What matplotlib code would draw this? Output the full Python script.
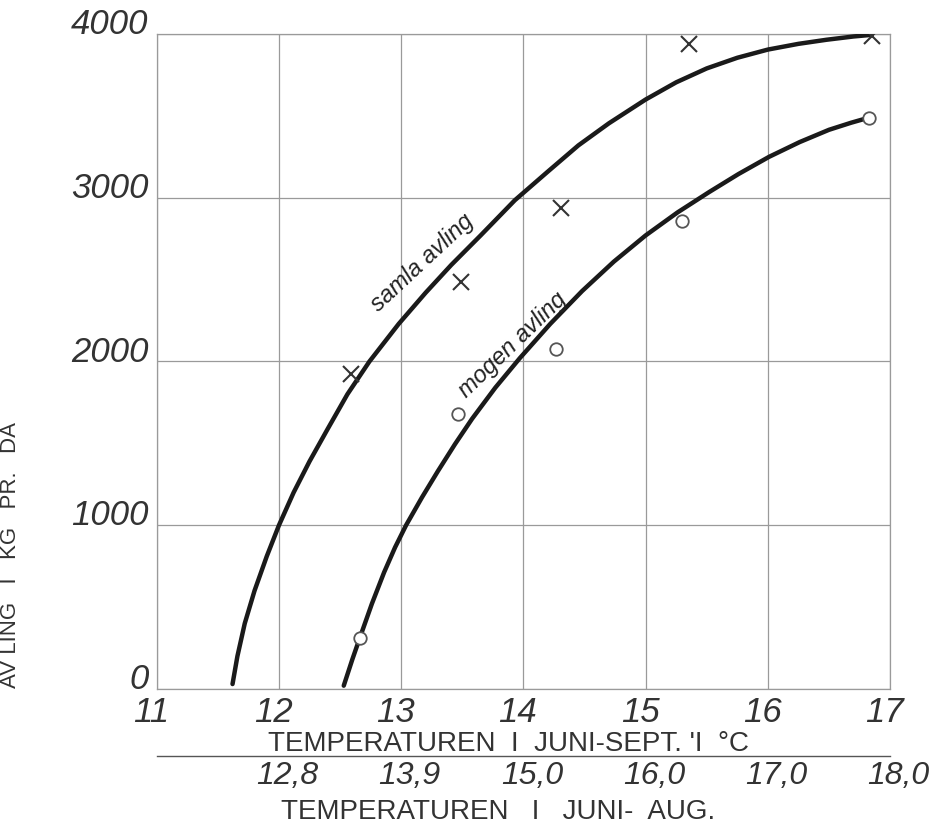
import numpy as np
import matplotlib.pyplot as plt
import matplotlib.transforms as mtransforms

# curves (temperature jun-sep, yield kg per da)
samla_x = [11.62, 11.66, 11.72, 11.80, 11.90, 12.00, 12.12, 12.25, 12.40, 12.56,
           12.74, 12.98, 13.20, 13.41, 13.65, 13.93, 14.20, 14.45, 14.70, 15.00,
           15.25, 15.50, 15.75, 16.00, 16.25, 16.48, 16.70, 16.85]
samla_y = [30, 200, 400, 600, 810, 1000, 1200, 1390, 1590, 1800,
           2000, 2230, 2420, 2590, 2770, 2985, 3160, 3320, 3455, 3600,
           3705, 3790, 3855, 3905, 3940, 3965, 3985, 3995]
mogen_x = [12.53, 12.60, 12.66, 12.76, 12.86, 12.95, 13.04, 13.17, 13.30, 13.44,
           13.58, 13.77, 13.97, 14.22, 14.48, 14.74, 15.00, 15.26, 15.52, 15.76,
           16.01, 16.26, 16.50, 16.68, 16.83]
mogen_y = [20, 180, 309, 520, 712, 865, 1000, 1170, 1330, 1495,
           1650, 1840, 2020, 2230, 2430, 2610, 2770, 2910, 3035, 3145,
           3250, 3340, 3415, 3458, 3490]

# observations
samla_obs_x = [12.59, 13.49, 14.31, 15.355, 16.85]
samla_obs_y = [1925, 2483, 2940, 3938, 3990]
mogen_obs_x = [12.66, 13.465, 14.27, 15.30, 16.83]
mogen_obs_y = [309, 1679, 2076, 2859, 3490]

xticks = [11, 12, 13, 14, 15, 16, 17]
yticks = [0, 1000, 2000, 3000, 4000]
aug_pos = [12, 13, 14, 15, 16, 17]
aug_labels = ['12,8', '13,9', '15,0', '16,0', '17,0', '18,0']

plt.rcParams['font.family'] = ['Liberation Sans', 'DejaVu Sans']
grey = '#9a9a9a'
ink = '#333333'

fig = plt.figure(figsize=(9.33, 8.28), dpi=100)
ax = fig.add_axes([0.168, 0.1667, 0.786, 0.791])

ax.plot(samla_x, samla_y, color='#1a1a1a', lw=3.2, solid_capstyle='round',
        solid_joinstyle='round', zorder=3)
ax.plot(mogen_x, mogen_y, color='#1a1a1a', lw=3.2, solid_capstyle='round',
        solid_joinstyle='round', zorder=3)
ax.plot(samla_obs_x, samla_obs_y, 'x', color=ink, ms=12, mew=1.5, zorder=4)
ax.plot(mogen_obs_x, mogen_obs_y, 'o', mfc='white', mec='#555555', ms=9, mew=1.3, zorder=4)

ax.set_xlim(11, 17)
ax.set_ylim(0, 4000)
ax.set_xticks(xticks)
ax.set_yticks(yticks)
ax.set_xticklabels([str(v) for v in xticks], fontstyle='italic', fontsize=25, color=ink)
ax.set_yticklabels([str(v) for v in yticks], fontstyle='italic', fontsize=25, color=ink)
ax.tick_params(length=0, pad=4)
ax.tick_params(axis='y', pad=6)
up = mtransforms.ScaledTranslation(0, 10 / 72, fig.dpi_scale_trans)
for lab in ax.get_yticklabels():
    lab.set_transform(lab.get_transform() + up)
left = mtransforms.ScaledTranslation(-4 / 72, 0, fig.dpi_scale_trans)
for lab in ax.get_xticklabels():
    lab.set_transform(lab.get_transform() + left)

ax.grid(True, color=grey, lw=0.9)
for s in ax.spines.values():
    s.set_color(grey)
    s.set_linewidth(0.9)

ax.set_xlabel("TEMPERATUREN  I  JUNI-SEPT. 'I  °C", fontsize=20, color=ink)
ax.xaxis.set_label_coords(0.48, -0.063)
ax.set_ylabel('AV LING   I   KG   PR.   DA', fontsize=16, color=ink)
ax.yaxis.set_label_coords(-0.185, 0.206)

sec = ax.secondary_xaxis(-0.102)
sec.set_xticks(aug_pos)
sec.set_xticklabels(aug_labels, fontstyle='italic', fontsize=23, color=ink)
sec.tick_params(length=0, pad=3)
right = mtransforms.ScaledTranslation(6 / 72, 0, fig.dpi_scale_trans)
for lab in sec.get_xticklabels():
    lab.set_transform(lab.get_transform() + right)
sec.spines['bottom'].set_color('#555555')
sec.spines['bottom'].set_linewidth(1.0)
sec.set_xlabel('TEMPERATUREN   I   JUNI-  AUG.', fontsize=20, color=ink)
sec.xaxis.set_label_coords(0.465, -0.166, transform=ax.transAxes)

ax.text(13.17, 2607, 'samla avling', rotation=43, fontsize=17, fontstyle='italic',
        ha='center', va='center', color='#222222')
ax.text(13.91, 2106, 'mogen avling', rotation=44, fontsize=17, fontstyle='italic',
        ha='center', va='center', color='#222222')

fig.savefig('out.png', dpi=100)
